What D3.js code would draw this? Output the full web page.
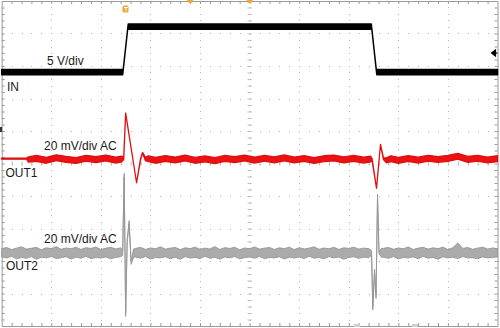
<!DOCTYPE html>
<html><head><meta charset="utf-8">
<script src="https://cdn.jsdelivr.net/npm/d3@7"></script>
<style>html,body{margin:0;padding:0;background:#fff;} svg{display:block;}</style>
</head><body><svg id="c" width="500" height="328"></svg>
<script>
// ---------- data (time in divisions, 10 div across the screen) ----------
const inTime    = [0, 2.440, 2.446, 2.546, 2.552, 7.454, 7.46, 7.56, 7.566, 10];
const inVolts   = [0, 0, 0, 7, 7, 7, 7, 0, 0, 0];
const inNoiseV  = [0.4, 0.4, 0, 0, 0.4, 0.4, 0, 0, 0.4, 0.4];

const out1Time  = [0, 0.5, 0.54, 0.7, 0.9, 1.1, 1.3, 1.5, 1.7, 1.9, 2.1, 2.3, 2.42,
  2.46, 2.50, 2.72, 2.80, 2.84, 2.90, 2.96,
  3.1, 3.3, 3.5, 3.7, 3.9, 4.1, 4.3, 4.5, 4.7, 4.9, 5.1, 5.3, 5.5, 5.7, 5.9, 6.1, 6.3, 6.5, 6.7, 6.9, 7.1, 7.3, 7.44,
  7.47, 7.56, 7.64, 7.70, 7.76, 7.85,
  8.0, 8.2, 8.4, 8.6, 8.8, 9.0, 9.2, 9.4, 9.6, 9.8, 10];
const out1mV    = [0.5, 0.5, 0, 0.7, -0.5, 1.1, 0.1, -0.6, 0.8, -0.1, 0.9, -0.4, 0.3,
  0.5, 28.6, -14.3, 0, 4.2, 0.3, 0.5,
  -0.5, 0.6, -0.3, 0.9, -0.5, 0.4, -0.7, 0.7, -0.1, 0.9, -0.4, 0.8, -0.2, 1.0, -0.3, 0.6, -0.6, 0.5, 0.9, -0.2, 0.7, -0.4, 0.3,
  0, -17.7, 9.3, 0.5, -0.5, 0.5,
  -0.5, 0.6, -0.4, 0.8, 0, 0.7, 2.0, 0.1, 0.8, -0.3, 0.5];
const out1NoisemV = [0.3, 0.3, 1.6, 1.8, 1.8, 1.8, 1.8, 1.8, 1.8, 1.8, 1.8, 1.8, 1.8,
  0.6, 0, 0, 0.4, 0.2, 1.0, 1.8,
  1.8, 1.8, 1.8, 1.8, 1.8, 1.8, 1.8, 1.8, 1.8, 1.8, 1.8, 1.8, 1.8, 1.8, 1.8, 1.8, 1.8, 1.8, 1.8, 1.8, 1.8, 1.8, 1.8,
  0.5, 0, 0, 0.5, 1.5, 1.8,
  1.8, 1.8, 1.8, 1.8, 1.8, 1.8, 1.8, 1.8, 1.8, 1.8, 1.8];

// OUT2: quiet stretches sampled every 0.1 div, transients listed point by point
const out2QuietA_hi = [2.6,3.4,2.1,3.0,3.8,2.4,2.9,3.5,2.0,3.2,2.7,3.9,2.3,3.1,2.6,3.6,2.2,3.3,2.8,3.7,2.1,3.0,3.5,2.5,3.2];
const out2QuietA_lo = [-2.4,-3.1,-2.0,-3.6,-2.7,-3.3,-2.2,-3.8,-2.6,-3.0,-2.1,-3.4,-2.9,-2.3,-3.7,-2.5,-3.2,-2.0,-3.5,-2.8,-3.1,-2.4,-3.6,-2.7,-2.3];
const out2RiseTime = [2.44, 2.47, 2.50, 2.53, 2.57, 2.61, 2.66];
const out2Rise_hi  = [1.5, 49, -37, 8, 20, -5, 2.5];
const out2Rise_lo  = [-1.5, 47, -39, 6, 18, -7, -2.5];
const out2QuietB_hi = [2.8,3.5,2.2,3.1,2.6,3.8,2.4,3.0,3.4,2.1,3.2,2.7,3.6,2.3,3.0,2.5,3.9,2.2,3.3,2.8,3.5,2.0,3.1,2.6,3.7,2.4,3.0,3.4,2.2,3.2,2.7,3.6,2.1,3.3,2.5,3.0,3.8,2.3,3.1,2.6,3.5,2.2,3.2,2.8,3.6,2.4,3.0,2.7];
const out2QuietB_lo = [-2.5,-3.2,-2.1,-3.7,-2.8,-3.0,-2.3,-3.5,-2.6,-3.9,-2.2,-3.1,-2.7,-3.4,-2.0,-3.3,-2.6,-3.8,-2.4,-3.0,-2.2,-3.6,-2.9,-2.5,-3.2,-2.1,-3.5,-2.7,-3.0,-2.3,-3.7,-2.6,-3.1,-2.4,-3.4,-2.0,-3.2,-2.8,-3.6,-2.2,-3.0,-2.5,-3.8,-2.7,-2.3,-3.3,-2.6,-2.9];
const out2FallTime = [7.46, 7.485, 7.52, 7.55, 7.58, 7.61, 7.66];
const out2Fall_hi  = [1.5, -33, -10, -26, 36, 0.5, 2.8];
const out2Fall_lo  = [-1.5, -35, -12, -28, 34, -0.5, -2.6];
const out2QuietC_hi = [2.9,3.4,2.3,3.1,2.6,3.7,2.2,3.0,3.5,2.4,3.2,2.7,3.6,2.1,3.3,6.2,2.8,3.4,2.3,3.0,3.6,2.5,3.1,2.7];
const out2QuietC_lo = [-2.6,-3.3,-2.2,-3.6,-2.8,-3.0,-2.4,-3.5,-2.1,-3.2,-2.7,-3.8,-2.3,-3.0,-2.6,-3.4,-2.2,-3.1,-2.9,-3.6,-2.4,-3.0,-2.7,-2.5];

const labelTexts = ["5 V/div", "IN", "20 mV/div AC", "OUT1", "20 mV/div AC", "OUT2"];

// ---------- setup ----------
const svg = d3.select("#c");
const x = d3.scaleLinear().domain([0, 10]).range([1.7, 497.5]);
const y = d3.scaleLinear().domain([-5, 5]).range([326, 1]);
const ch = {
  in:   {off: 2.81,   scale: 5},
  out1: {off: 0.123,  scale: 20},
  out2: {off: -2.754, scale: 20}
};
const gridCol = "#b5b5b5", frameCol = "#9a9a9a";
const sampleGrid = (start, n) => d3.range(n).map(i => +(start + i * 0.1).toFixed(2));

// ---------- graticule ----------
const g = svg.append("g").attr("shape-rendering", "crispEdges");
const minorX = d3.range(0, 10.001, 0.2);
const minorY = d3.range(-5, 5.001, 0.2);
d3.range(1, 10).forEach(i => {
  g.selectAll(null).data(minorY).enter().append("rect")
    .attr("x", Math.round(x(i))).attr("y", d => Math.round(y(d)))
    .attr("width", 1).attr("height", 1).attr("fill", gridCol);
});
d3.range(-4, 5).forEach(j => {
  g.selectAll(null).data(minorX).enter().append("rect")
    .attr("x", d => Math.round(x(d))).attr("y", Math.round(y(j)))
    .attr("width", 1).attr("height", 1).attr("fill", gridCol);
});
function styleAxis(sel, col) {
  sel.selectAll("path").attr("stroke", col).attr("stroke-width", 1);
  sel.selectAll("line").attr("stroke", col);
  sel.selectAll("text").remove();
}
const mx = minorX.slice(1, -1), my = minorY.slice(1, -1);
svg.append("g").attr("transform", `translate(0,${y(5)})`)
  .call(d3.axisTop(x).tickValues(mx).tickSize(-3).tickSizeOuter(0).tickFormat("")).call(styleAxis, frameCol);
svg.append("g").attr("transform", `translate(0,${y(-5)})`)
  .call(d3.axisBottom(x).tickValues(mx).tickSize(-3).tickSizeOuter(0).tickFormat("")).call(styleAxis, frameCol);
svg.append("g").attr("transform", `translate(${x(0)},0)`)
  .call(d3.axisLeft(y).tickValues(my).tickSize(-3).tickSizeOuter(0).tickFormat("")).call(styleAxis, frameCol);
svg.append("g").attr("transform", `translate(${x(10)},0)`)
  .call(d3.axisRight(y).tickValues(my).tickSize(-3).tickSizeOuter(0).tickFormat("")).call(styleAxis, frameCol);
[-2, 2].forEach(s => {
  svg.append("g").attr("transform", `translate(0,${y(0)})`)
    .call(d3.axisBottom(x).tickValues(mx).tickSize(s).tickSizeOuter(0).tickFormat(""))
    .call(sel => { sel.select("path").remove(); sel.selectAll("line").attr("stroke", gridCol); sel.selectAll("text").remove(); });
  svg.append("g").attr("transform", `translate(${x(5)},0)`)
    .call(d3.axisRight(y).tickValues(my).tickSize(s).tickSizeOuter(0).tickFormat(""))
    .call(sel => { sel.select("path").remove(); sel.selectAll("line").attr("stroke", gridCol); sel.selectAll("text").remove(); });
});

// ---------- traces ----------
const out2Time = [].concat(sampleGrid(0, 25), out2RiseTime, sampleGrid(2.7, 48), out2FallTime, sampleGrid(7.7, 24));
const out2Hi = [].concat(out2QuietA_hi, out2Rise_hi, out2QuietB_hi, out2Fall_hi, out2QuietC_hi);
const out2Lo = [].concat(out2QuietA_lo, out2Rise_lo, out2QuietB_lo, out2Fall_lo, out2QuietC_lo);
const out2Data = out2Time.map((t, i) => ({t, hi: out2Hi[i], lo: out2Lo[i]}));
svg.append("path").datum(out2Data)
  .attr("d", d3.area().x(d => x(d.t))
    .y0(d => y(ch.out2.off + d.lo / ch.out2.scale))
    .y1(d => y(ch.out2.off + d.hi / ch.out2.scale)))
  .attr("fill", "#ababab").attr("stroke", "#959595").attr("stroke-width", 0.9).attr("stroke-linejoin", "round");

const out1Data = out1Time.map((t, i) => ({t, m: out1mV[i], n: out1NoisemV[i]}));
svg.append("path").datum(out1Data)
  .attr("d", d3.area().x(d => x(d.t))
    .y0(d => y(ch.out1.off + (d.m - d.n) / ch.out1.scale))
    .y1(d => y(ch.out1.off + (d.m + d.n) / ch.out1.scale)))
  .attr("fill", "#ee1111").attr("stroke", "#dd1010").attr("stroke-width", 1.3).attr("stroke-linejoin", "round");

const inData = inTime.map((t, i) => ({t, v: inVolts[i], n: inNoiseV[i]}));
svg.append("path").datum(inData)
  .attr("d", d3.area().x(d => x(d.t))
    .y0(d => y(ch.in.off + (d.v - d.n) / ch.in.scale))
    .y1(d => y(ch.in.off + (d.v + d.n) / ch.in.scale)))
  .attr("fill", "#000").attr("stroke", "#000").attr("stroke-width", 1.5).attr("stroke-linejoin", "round");

// ---------- labels ----------
const labelPos = [[47, 65], [7, 91], [44, 150], [5.5, 177], [44, 243], [6, 270]];
svg.selectAll("text.lbl").data(labelTexts).enter().append("text")
  .attr("class", "lbl")
  .attr("x", (d, i) => labelPos[i][0]).attr("y", (d, i) => labelPos[i][1])
  .attr("font-family", "Liberation Sans, Arial, sans-serif").attr("font-size", 12)
  .attr("fill", "#1a1a1a").text(d => d);

// ---------- markers ----------
const orange = "#f2a33a";
svg.append("rect").attr("x", x(2.446) - 0.5).attr("y", 5.5).attr("width", 6).attr("height", 7)
  .attr("rx", 1.5).attr("fill", orange);
svg.append("path").attr("d", `M${x(2.446) + 1},7.5 h4 M${x(2.446) + 3},7.5 v4`)
  .attr("stroke", "#fff").attr("stroke-width", 1);
[x(3.8), x(5)].forEach(cx => svg.append("circle").attr("cx", cx).attr("cy", 0).attr("r", 3).attr("fill", orange));
svg.append("path").attr("d", "M491.5,53 l4,-3 v6 z M494,53 h3.5").attr("fill", "#000").attr("stroke", "#000").attr("stroke-width", 1.2);
svg.append("rect").attr("x", 0).attr("y", 127).attr("width", 2).attr("height", 5).attr("fill", "#333");
[357, 415].forEach(px => svg.append("rect").attr("x", px - 3).attr("y", 324).attr("width", 6).attr("height", 3).attr("fill", "#cfcfcf"));
</script>
</body></html>
